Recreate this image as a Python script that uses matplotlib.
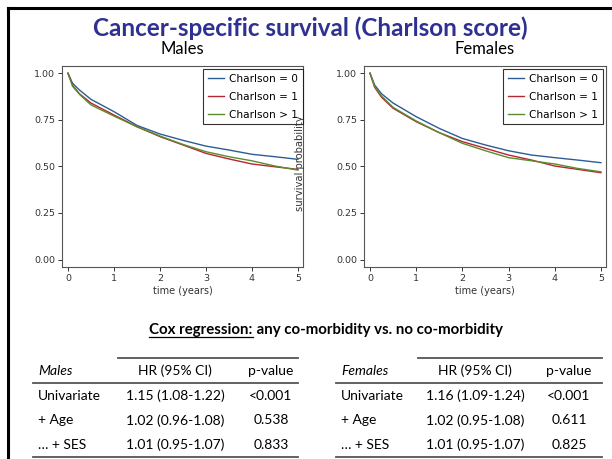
"""
Cancer-specific survival by Charlson score: KM curves + Cox regression table.
"""

import matplotlib
matplotlib.use("Agg")
import matplotlib.pyplot as plt
from matplotlib.lines import Line2D

W, H = 612, 459

# --- data ---
time_years = [0, 0.1, 0.25, 0.5, 1, 1.5, 2, 2.5, 3, 3.5, 4, 4.5, 5]

males_c0 = [1.0, 0.946, 0.91, 0.86, 0.794, 0.72, 0.674, 0.64, 0.609, 0.588, 0.565, 0.552, 0.538]
males_c1 = [1.0, 0.935, 0.89, 0.84, 0.776, 0.713, 0.66, 0.615, 0.57, 0.54, 0.513, 0.498, 0.484]
males_c2 = [1.0, 0.93, 0.887, 0.83, 0.77, 0.713, 0.663, 0.618, 0.579, 0.552, 0.53, 0.502, 0.48]

females_c0 = [1.0, 0.937, 0.89, 0.84, 0.767, 0.704, 0.65, 0.615, 0.584, 0.561, 0.547, 0.534, 0.52]
females_c1 = [1.0, 0.925, 0.871, 0.812, 0.74, 0.681, 0.633, 0.597, 0.561, 0.534, 0.502, 0.484, 0.466]
females_c2 = [1.0, 0.93, 0.878, 0.817, 0.744, 0.681, 0.624, 0.584, 0.547, 0.53, 0.513, 0.489, 0.471]

group_labels = ["Charlson = 0", "Charlson = 1", "Charlson > 1"]
group_colors = ["#2b5d94", "#b5262e", "#5b8c2f"]

x_ticks = [0, 1, 2, 3, 4, 5]
y_ticks = [0.0, 0.25, 0.5, 0.75, 1.0]

row_labels = ["Univariate", "+ Age", "\u2026 + SES"]
males_hr = ["1.15 (1.08-1.22)", "1.02 (0.96-1.08)", "1.01 (0.95-1.07)"]
males_p = ["<0.001", "0.538", "0.833"]
females_hr = ["1.16 (1.09-1.24)", "1.02 (0.95-1.08)", "1.01 (0.95-1.07)"]
females_p = ["<0.001", "0.611", "0.825"]

SLIDE_FONT = ["Lato", "DejaVu Sans"]
TITLE_COLOR = "#2f3192"


def fx(x):
    return x / W


def fy(y):
    return 1 - y / H


fig = plt.figure(figsize=(W / 100, H / 100), dpi=100)
fig.patch.set_facecolor("white")

# slide frame (left and top edges only visible)
fig.add_artist(Line2D([fx(8), fx(8)], [fy(8), 0], transform=fig.transFigure,
                      color="black", lw=2.2))
fig.add_artist(Line2D([fx(8), 1], [fy(8), fy(8)], transform=fig.transFigure,
                      color="black", lw=2.2))

fig.text(fx(310), fy(28), "Cancer-specific survival (Charlson score)",
         ha="center", va="center", fontsize=17.5, fontweight="bold",
         color=TITLE_COLOR, family=SLIDE_FONT)


def km_panel(left, right, title, curves, legend_x):
    top, bottom = 66, 267
    ax = fig.add_axes([fx(left), fy(bottom), fx(right - left), (bottom - top) / H])
    for vals, lab, col in zip(curves, group_labels, group_colors):
        ax.plot(time_years, vals, color=col, lw=1.0, label=lab)
    ax.set_xlim(-0.13, 5.11)
    ax.set_ylim(-0.04, 1.039)
    ax.set_xticks(x_ticks)
    ax.set_yticks(y_ticks)
    ax.set_yticklabels([f"{v:.2f}" for v in y_ticks])
    ax.tick_params(labelsize=6.8, length=3, width=0.7, colors="#333333", pad=2)
    for s in ax.spines.values():
        s.set_color("#555555")
        s.set_linewidth(0.8)
    ax.set_xlabel("time (years)", fontsize=7, labelpad=2, color="#333333")
    fig.text(fx((left + right) / 2), fy(49), title, ha="center", va="center",
             fontsize=12, family=SLIDE_FONT)
    leg = ax.legend(loc="upper right", bbox_to_anchor=(legend_x, 0.985),
                    borderaxespad=0, fontsize=7.6, frameon=True, fancybox=False,
                    handlelength=1.5, handletextpad=0.5, labelspacing=0.75,
                    borderpad=0.45)
    leg.get_frame().set_edgecolor("black")
    leg.get_frame().set_linewidth(0.8)
    return ax


km_panel(62, 303, "Males", [males_c0, males_c1, males_c2], 1.0)
km_panel(364, 606, "Females", [females_c0, females_c1, females_c2], 0.988)

fig.text(fx(300), fy(163), "survival probability", rotation=90,
         ha="center", va="center", fontsize=7.2, color="#333333")

# Cox regression heading, centred on the slide
head_kw = dict(ha="left", va="center", fontsize=10.8, fontweight="bold",
               family=SLIDE_FONT)
t1 = fig.text(0, fy(330), "Cox regression:", **head_kw)
t2 = fig.text(0, fy(330), " any co-morbidity vs. no co-morbidity", **head_kw)
fig.canvas.draw()
w1 = t1.get_window_extent().width
w2 = t2.get_window_extent().width
x_start = 326 - (w1 + w2) / 2
t1.set_x(fx(x_start))
t2.set_x(fx(x_start + w1))
fig.add_artist(Line2D([fx(x_start), fx(x_start + w1)], [fy(337), fy(337)],
                      transform=fig.transFigure, color="black", lw=0.9))


def cox_table(x0, x_top, x1, head, hr_x, p_x, hrs, ps):
    line_kw = dict(transform=fig.transFigure, color="#555555", lw=1.3)
    fig.add_artist(Line2D([fx(x_top), fx(x1)], [fy(358), fy(358)], **line_kw))
    fig.add_artist(Line2D([fx(x0), fx(x1)], [fy(383), fy(383)], **line_kw))
    fig.add_artist(Line2D([fx(x0), fx(x1)], [fy(457), fy(457)], **line_kw))
    kw = dict(va="center", fontsize=10, family=SLIDE_FONT)
    fig.text(fx(x0 + 5), fy(371), head, ha="left", style="italic", **kw)
    fig.text(fx(hr_x), fy(371), "HR (95% CI)", ha="center", **kw)
    fig.text(fx(p_x), fy(371), "p-value", ha="center", **kw)
    for i, (lab, hr, p) in enumerate(zip(row_labels, hrs, ps)):
        y = fy(396 + i * 24.5)
        fig.text(fx(x0 + 5), y, lab, ha="left", **kw)
        fig.text(fx(hr_x), y, hr, ha="center", **kw)
        fig.text(fx(p_x), y, p, ha="center", **kw)


cox_table(33, 118, 298, "Males", 175, 271, males_hr, males_p)
cox_table(336, 418, 602, "Females", 475, 569, females_hr, females_p)

fig.savefig("out.png", dpi=100)
